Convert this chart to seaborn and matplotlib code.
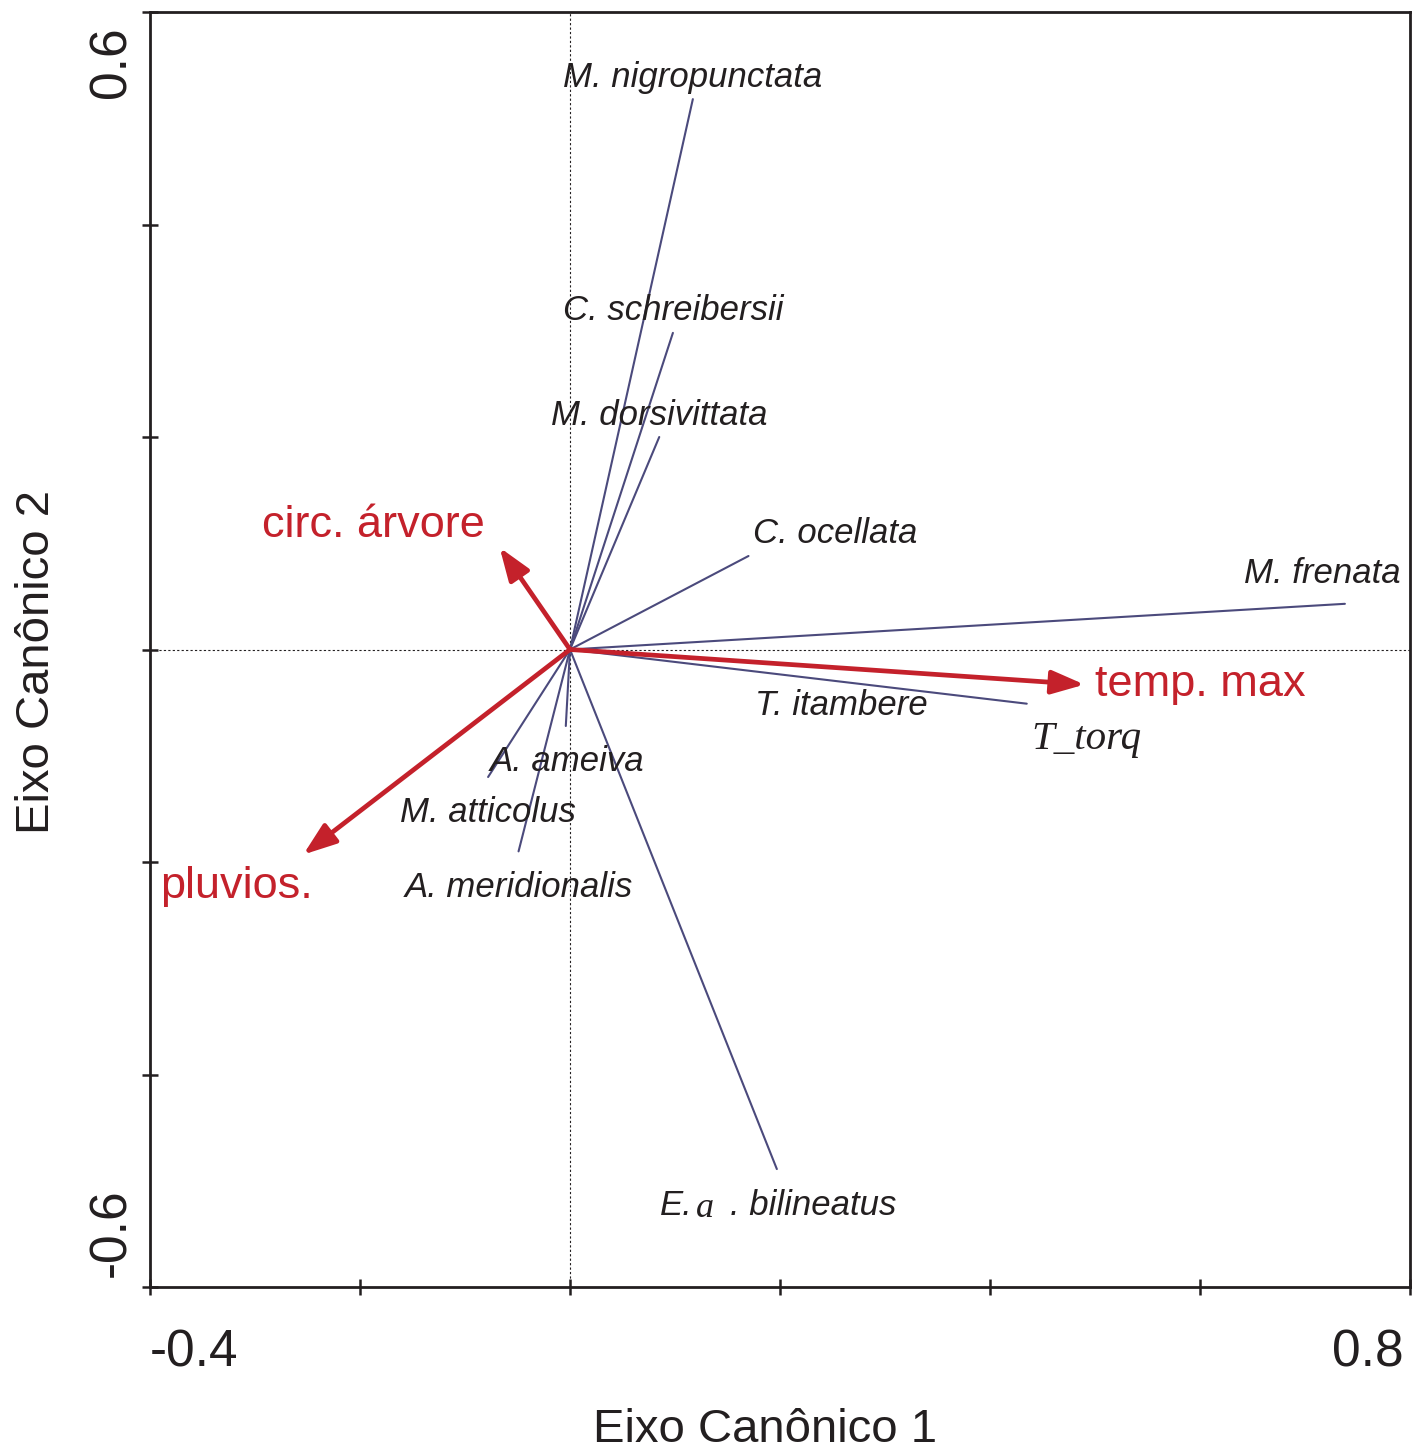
import numpy as np
import pandas as pd
import matplotlib
matplotlib.use("Agg")
import matplotlib.pyplot as plt
import matplotlib.transforms as mtransforms
import seaborn as sns

# ---- data ----
species = ["M. nigropunctata", "C. schreibersii", "M. dorsivittata", "C. ocellata",
           "M. frenata", "T_torq", "E. bilineatus", "M. atticolus", "A. meridionalis", "A. ameiva"]
sp_x = [0.117, 0.098, 0.085, 0.170, 0.738, 0.435, 0.197, -0.078, -0.049, -0.004]
sp_y = [0.518, 0.298, 0.200, 0.088, 0.043, -0.051, -0.489, -0.120, -0.190, -0.072]

env_vars = ["circ. árvore", "pluvios.", "temp. max"]
env_x = [-0.067, -0.254, 0.490]
env_y = [0.096, -0.193, -0.033]

# label anchor positions (data coords)
sp_labels = ["M. nigropunctata", "C. schreibersii", "M. dorsivittata", "C. ocellata",
             "M. frenata", "T. itambere", "A. ameiva", "M. atticolus", "A. meridionalis"]
sp_lab_x = [-0.0067, -0.0067, -0.018, 0.174, 0.791, 0.176, -0.076, -0.162, -0.157]
sp_lab_y = [0.538, 0.319, 0.220, 0.109, 0.0715, -0.053, -0.105, -0.153, -0.224]
sp_lab_ha = ["left", "left", "left", "left", "right", "left", "left", "left", "left"]

env_lab_x = [-0.293, -0.390, 0.500]
env_lab_y = [0.117, -0.223, -0.033]

xticks = [-0.4, -0.2, 0.0, 0.2, 0.4, 0.6, 0.8]
xticklabels = ["-0.4", "", "", "", "", "", "0.8"]
yticks = [-0.6, -0.4, -0.2, 0.0, 0.2, 0.4, 0.6]
yticklabels = ["-0.6", "", "", "", "", "", "0.6"]

# ---- style ----
sns.set_theme(style="white")
plt.rcParams["font.family"] = ["Liberation Sans", "DejaVu Sans"]

INK = "#231f20"
LINE = "#4b4a7c"
RED = "#c4212b"

fig = plt.figure(figsize=(14.23, 14.52), dpi=100)
ax = fig.add_axes([150 / 1423, 1 - 1287 / 1452, 1260 / 1423, 1275 / 1452])

# dotted reference lines
ax.axhline(0, color=INK, lw=0.8, ls=(0, (2, 2)), zorder=1)
ax.axvline(0, color=INK, lw=0.8, ls=(0, (2, 2)), zorder=1)

# species vectors via seaborn
rows = []
for s, x, y in zip(species, sp_x, sp_y):
    rows.append({"species": s, "step": 0, "x": 0.0, "y": 0.0})
    rows.append({"species": s, "step": 1, "x": x, "y": y})
df = pd.DataFrame(rows)
sns.lineplot(data=df, x="x", y="y", units="species", estimator=None, sort=False,
             color=LINE, lw=1.5, ax=ax, zorder=2, legend=False)

# environmental arrows
for x, y in zip(env_x, env_y):
    ax.annotate("", xy=(x, y), xytext=(0, 0),
                arrowprops=dict(arrowstyle="-|>,head_length=1.0,head_width=0.36",
                                mutation_scale=20, lw=3.4, color=RED,
                                shrinkA=0, shrinkB=0),
                zorder=3)

# species labels
for lab, x, y, ha in zip(sp_labels, sp_lab_x, sp_lab_y, sp_lab_ha):
    ax.text(x, y, lab, ha=ha, va="center", fontsize=25, style="italic", color=INK, zorder=4)
ax.text(0.439, -0.085, "T_torq", ha="left", va="center", fontsize=29.5, style="italic",
        family="Liberation Serif", color=INK, zorder=4)
ax.text(0.0857, -0.523, "E.", ha="left", va="center", fontsize=25, style="italic", color=INK)
ax.text(0.1195, -0.526, "a", ha="left", va="center", fontsize=26, style="italic",
        family="Liberation Serif", color=INK)
ax.text(0.1524, -0.523, ". bilineatus", ha="left", va="center", fontsize=25, style="italic", color=INK)

# environmental labels
for lab, x, y in zip(env_vars, env_lab_x, env_lab_y):
    ax.text(x, y, lab, ha="left", va="center", fontsize=32.5, color=RED, zorder=4)

ax.set_xlim(-0.4, 0.8)
ax.set_ylim(-0.6, 0.6)
ax.set_xticks(xticks)
ax.set_xticklabels(xticklabels, fontsize=37, color=INK)
ax.set_yticks(yticks)
ax.set_yticklabels(yticklabels, fontsize=37, color=INK, rotation=90)
ax.tick_params(axis="both", which="both", direction="inout", length=12, width=1.8,
               color=INK, left=True, bottom=True)
ax.tick_params(axis="x", pad=24)
ax.tick_params(axis="y", pad=4)

xlabs = ax.get_xticklabels()
xlabs[0].set_ha("left")
xlabs[-1].set_ha("right")
xlabs[-1].set_transform(xlabs[-1].get_transform() +
                        mtransforms.ScaledTranslation(-6 / 100, 0, fig.dpi_scale_trans))
ylabs = ax.get_yticklabels()
ylabs[0].set_va("bottom")
ylabs[-1].set_va("top")
for t in ylabs:
    t.set_ha("right")
ylabs[0].set_transform(ylabs[0].get_transform() +
                       mtransforms.ScaledTranslation(0, 10 / 100, fig.dpi_scale_trans))
ylabs[-1].set_transform(ylabs[-1].get_transform() +
                        mtransforms.ScaledTranslation(0, -14 / 100, fig.dpi_scale_trans))

for sp in ax.spines.values():
    sp.set_visible(True)
    sp.set_color(INK)
    sp.set_linewidth(2)

ax.set_xlabel("Eixo Canônico 1", fontsize=34, color=INK)
ax.set_ylabel("Eixo Canônico 2", fontsize=34, color=INK)
ax.xaxis.set_label_coords(0.488, -0.095)
ax.yaxis.set_label_coords(-0.072, 0.49)

fig.savefig("out.png", dpi=100)
